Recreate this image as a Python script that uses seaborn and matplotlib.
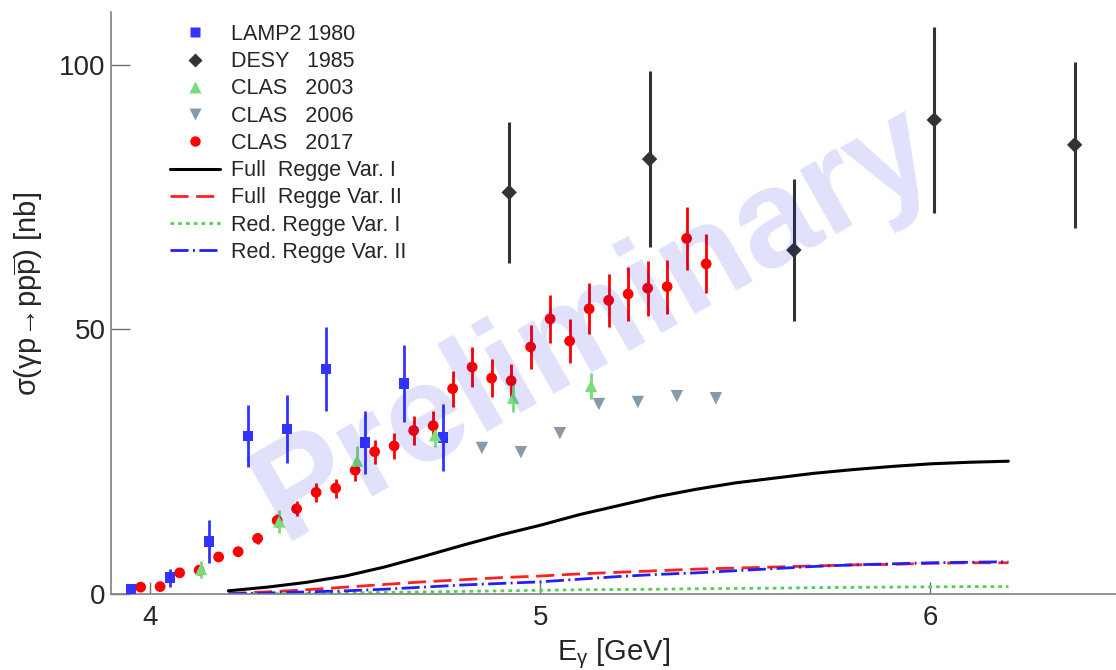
import matplotlib
matplotlib.use("Agg")
import matplotlib.pyplot as plt
import seaborn as sns
import pandas as pd
from matplotlib.lines import Line2D

# ---------------- data ----------------
# LAMP2 1980
lamp_E = [3.95, 4.05, 4.15, 4.25, 4.35, 4.45, 4.55, 4.65, 4.75]
lamp_sig = [0.9, 3.1, 9.9, 29.9, 31.2, 42.5, 28.6, 39.8, 29.6]
lamp_err = [0.0, 1.7, 4.0, 5.9, 6.4, 8.0, 5.9, 7.2, 6.4]

# DESY 1985
desy_E = [4.92, 5.28, 5.65, 6.01, 6.37]
desy_sig = [75.9, 82.2, 65.0, 89.6, 84.9]
desy_err = [13.4, 16.7, 13.4, 17.5, 15.7]

# CLAS 2003
c03_E = [4.13, 4.33, 4.53, 4.73, 4.93, 5.13]
c03_sig = [4.7, 13.7, 25.2, 30.0, 37.1, 39.3]
c03_err = [1.6, 2.1, 2.7, 2.3, 2.7, 2.5]

# CLAS 2006
c06_E = [4.85, 4.95, 5.05, 5.15, 5.25, 5.35, 5.45]
c06_sig = [27.6, 26.8, 30.4, 35.9, 36.3, 37.4, 37.0]

# CLAS 2017
c17_E = [3.975, 4.025, 4.075, 4.125, 4.175, 4.225, 4.275, 4.325, 4.375, 4.425,
         4.475, 4.525, 4.575, 4.625, 4.675, 4.725, 4.775, 4.825, 4.875, 4.925,
         4.975, 5.025, 5.075, 5.125, 5.175, 5.225, 5.275, 5.325, 5.375, 5.425]
c17_sig = [1.3, 1.4, 4.0, 4.5, 7.0, 8.0, 10.5, 13.9, 16.1, 19.2,
           20.0, 23.4, 26.9, 28.0, 30.9, 31.8, 38.8, 42.9, 40.8, 40.3,
           46.7, 52.0, 47.8, 53.9, 55.5, 56.7, 57.8, 58.1, 67.2, 62.4]
c17_err = [0.4, 0.4, 0.5, 0.6, 0.7, 0.8, 1.0, 1.2, 1.4, 1.8,
           1.8, 2.0, 2.3, 2.5, 2.7, 2.7, 3.4, 3.8, 3.6, 3.2,
           4.1, 4.6, 4.2, 4.8, 5.0, 5.1, 5.2, 5.1, 6.0, 5.6]

# Regge model curves
curve_E = [4.2, 4.3, 4.4, 4.5, 4.6, 4.7, 4.8, 4.9, 5.0, 5.1, 5.2,
           5.3, 5.4, 5.5, 5.6, 5.7, 5.8, 5.9, 6.0, 6.1, 6.2]
full_var1 = [0.6, 1.3, 2.2, 3.4, 5.1, 7.1, 9.2, 11.2, 13.0, 15.0, 16.7,
             18.4, 19.8, 21.0, 21.9, 22.8, 23.5, 24.1, 24.6, 24.9, 25.1]
full_var2 = [0.1, 0.4, 0.8, 1.3, 1.8, 2.3, 2.7, 3.1, 3.4, 3.8, 4.1,
             4.4, 4.7, 4.9, 5.1, 5.3, 5.5, 5.6, 5.8, 5.9, 5.9]
red_var1 = [0.0, 0.05, 0.1, 0.2, 0.3, 0.4, 0.5, 0.6, 0.7, 0.8, 0.85,
            0.9, 1.0, 1.05, 1.1, 1.2, 1.25, 1.3, 1.35, 1.4, 1.4]
red_var2 = [0.05, 0.2, 0.4, 0.6, 0.9, 1.3, 1.7, 2.0, 2.3, 2.8, 3.3,
            3.7, 4.0, 4.4, 4.8, 5.2, 5.5, 5.7, 5.9, 6.0, 6.1]

x_ticks = [4, 5, 6]
y_ticks = [0, 50, 100]

# ---------------- style ----------------
sns.set_theme(style="white")
plt.rcParams["font.family"] = ["Liberation Sans", "DejaVu Sans"]
plt.rcParams["mathtext.fontset"] = "custom"
plt.rcParams["mathtext.rm"] = "Liberation Sans"
plt.rcParams["mathtext.it"] = "Liberation Sans"
plt.rcParams["mathtext.bf"] = "Liberation Sans:bold"
plt.rcParams["lines.scale_dashes"] = False

C_LAMP = "#3333ff"
C_DESY = "#333333"
C_C03 = "#77dd77"
C_C06 = "#8899a8"
C_C17 = "#ff0000"

fig = plt.figure(figsize=(11.16, 6.70), dpi=100)
ax = fig.add_axes([111 / 1116, 76 / 670, 1 - 111 / 1116, (594 - 12) / 670])

# ---------------- curves ----------------
curves = pd.DataFrame({"E": curve_E, "f1": full_var1, "f2": full_var2,
                       "r1": red_var1, "r2": red_var2})
dash_f2 = [13, 5.5]
dash_r1 = [2.6, 3.0]
dash_r2 = [13, 3.2, 1.4, 3.2]

sns.lineplot(data=curves, x="E", y="f1", color="black", lw=2.2, ax=ax, zorder=2)
sns.lineplot(data=curves, x="E", y="f2", color="#ff2020", lw=2.0, ax=ax, zorder=2)
ax.lines[-1].set_dashes(dash_f2)
sns.lineplot(data=curves, x="E", y="r1", color="#55cc55", lw=2.0, ax=ax, zorder=2)
ax.lines[-1].set_dashes(dash_r1)
sns.lineplot(data=curves, x="E", y="r2", color="#2020ff", lw=2.0, ax=ax, zorder=2)
ax.lines[-1].set_dashes(dash_r2)

# ---------------- data points ----------------
ax.errorbar(desy_E, desy_sig, yerr=desy_err, fmt="none", ecolor=C_DESY, elinewidth=2.2, capsize=0, zorder=3)
ax.errorbar(lamp_E, lamp_sig, yerr=lamp_err, fmt="none", ecolor=C_LAMP, elinewidth=2.0, capsize=0, zorder=3)
ax.errorbar(c17_E, c17_sig, yerr=c17_err, fmt="none", ecolor=C_C17, elinewidth=2.0, capsize=0, zorder=3)
ax.errorbar(c03_E, c03_sig, yerr=c03_err, fmt="none", ecolor=C_C03, elinewidth=2.0, capsize=0, zorder=3)

sns.scatterplot(x=desy_E, y=desy_sig, marker="D", s=62, color=C_DESY, edgecolor="none", ax=ax, zorder=4)
sns.scatterplot(x=c06_E, y=c06_sig, marker="v", s=80, color=C_C06, edgecolor="none", ax=ax, zorder=4)
sns.scatterplot(x=c17_E, y=c17_sig, marker="o", s=60, color=C_C17, edgecolor="none", ax=ax, zorder=4)
sns.scatterplot(x=lamp_E, y=lamp_sig, marker="s", s=58, color=C_LAMP, edgecolor="none", ax=ax, zorder=5)
sns.scatterplot(x=c03_E, y=c03_sig, marker="^", s=78, color=C_C03, edgecolor="none", ax=ax, zorder=5)

# ---------------- watermark ----------------
ax.text(5.14, 51.0, "Preliminary", fontsize=100, fontweight="bold", color=(0.0, 0.0, 0.9),
        alpha=0.12, rotation=29.5, ha="center", va="center", rotation_mode="anchor", zorder=10)

# ---------------- axes ----------------
ax.set_xlim(3.899, 6.476)
ax.set_ylim(0, 110)
ax.set_xticks(x_ticks)
ax.set_yticks(y_ticks)
ax.set_xticklabels([str(t) for t in x_ticks])
ax.set_yticklabels([str(t) for t in y_ticks])
for s in ["top", "right"]:
    ax.spines[s].set_visible(False)
for s in ["left", "bottom"]:
    ax.spines[s].set_color("#808080")
    ax.spines[s].set_linewidth(1.2)
ax.tick_params(axis="y", direction="in", length=13.5, width=1.0, color="#707070",
               labelsize=20, pad=4, left=True)
ax.tick_params(axis="x", direction="in", length=8.6, width=1.0, color="#707070",
               labelsize=20, pad=8, bottom=True)
ax.grid(False)

ax.set_xlabel(r"E$_{\gamma}$ [GeV]", fontsize=21)
ax.set_ylabel(r"$\mathrm{\sigma(\gamma p\!\rightarrow\! pp\overline{p})}$ [nb]", fontsize=21)
ax.xaxis.set_label_coords(0.5, -0.072)
ax.yaxis.set_label_coords(-0.066, 0.515)

# ---------------- legend ----------------
handles = [
    Line2D([], [], ls="none", marker="s", ms=7.2, color=C_LAMP, mec="none"),
    Line2D([], [], ls="none", marker="D", ms=7.5, color=C_DESY, mec="none"),
    Line2D([], [], ls="none", marker="^", ms=9, color=C_C03, mec="none"),
    Line2D([], [], ls="none", marker="v", ms=9, color=C_C06, mec="none"),
    Line2D([], [], ls="none", marker="o", ms=7.5, color=C_C17, mec="none"),
    Line2D([], [], color="black", lw=2.2),
    Line2D([], [], color="#ff2020", lw=2.0, dashes=dash_f2),
    Line2D([], [], color="#55cc55", lw=2.0, dashes=dash_r1),
    Line2D([], [], color="#2020ff", lw=2.0, dashes=dash_r2),
]
labels = ["LAMP2 1980", "DESY   1985", "CLAS   2003", "CLAS   2006", "CLAS   2017",
          "Full  Regge Var. I", "Full  Regge Var. II", "Red. Regge Var. I", "Red. Regge Var. II"]
leg = ax.legend(handles, labels, loc="upper left", bbox_to_anchor=(170 / 1116, 1 - 24 / 670),
                bbox_transform=fig.transFigure, frameon=False, fontsize=15.5,
                borderpad=0, borderaxespad=0, handlelength=2.3, handletextpad=0.55,
                labelspacing=0.29)
leg.set_zorder(20)

fig.savefig("out.png", dpi=100)
